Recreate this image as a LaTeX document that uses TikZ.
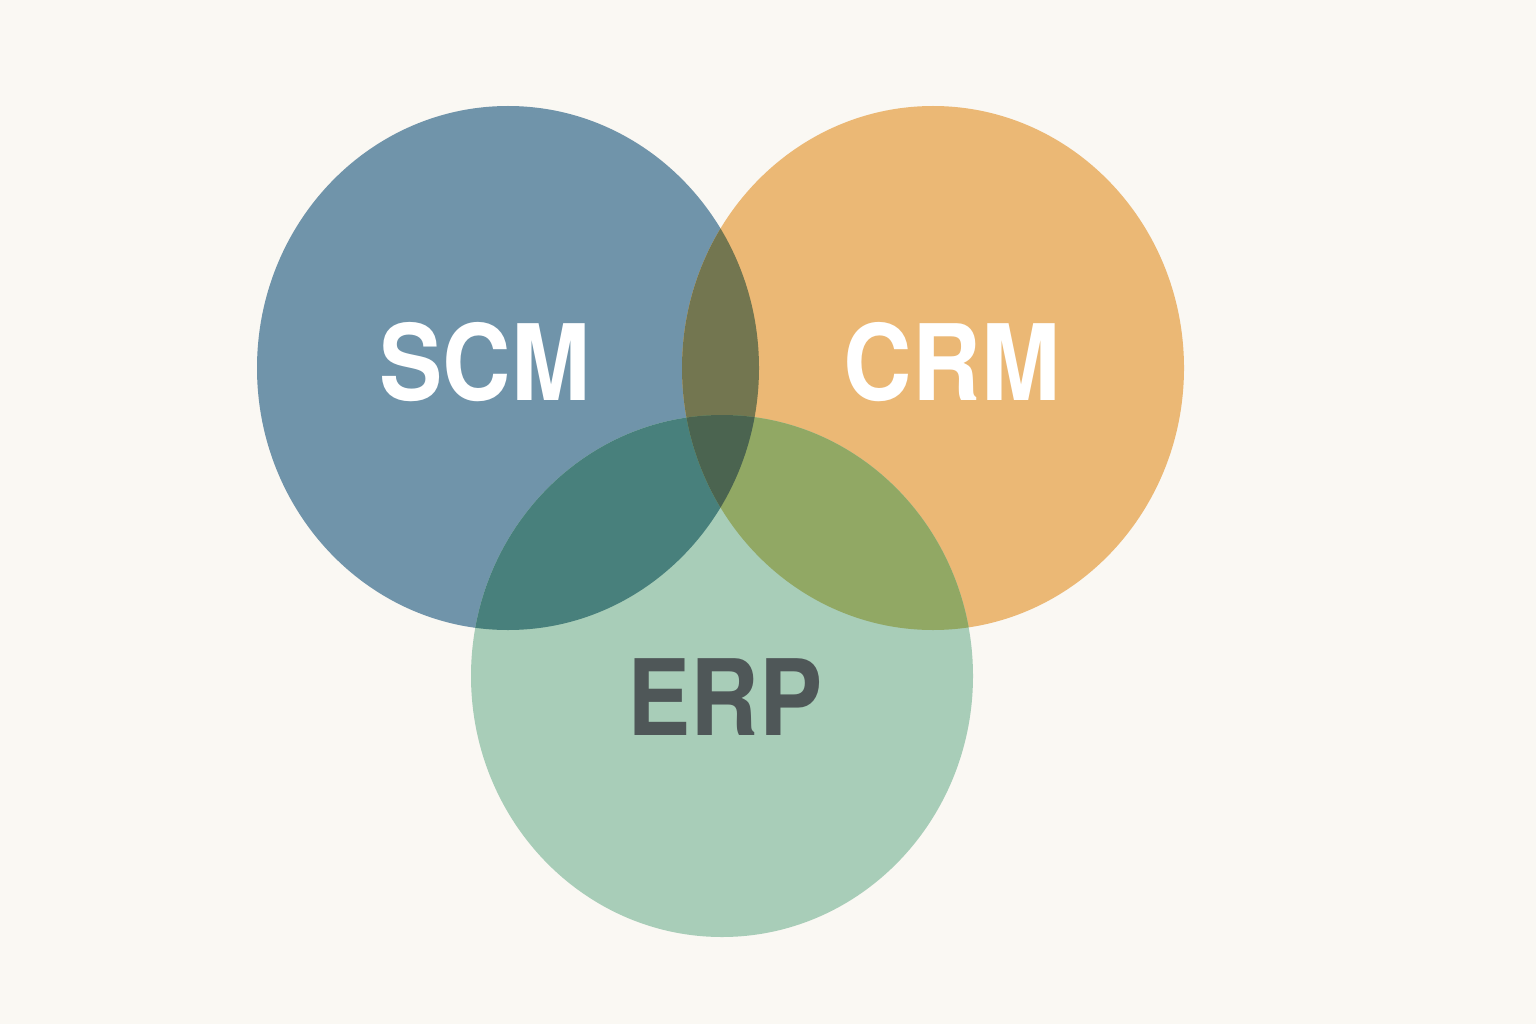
\documentclass[tikz,border=0pt]{standalone}
\usepackage{fontspec}
\setmainfont{TeX Gyre Heros}[FakeStretch=0.9]
\usepackage{xcolor}
\definecolor{paper}{HTML}{FAF8F3}
\definecolor{scmblue}{HTML}{7094AA}
\definecolor{crmorange}{HTML}{EBB875}
\definecolor{erpgreen}{HTML}{A8CDB8}
\definecolor{scmcrm}{HTML}{737650}
\definecolor{scmerp}{HTML}{48807C}
\definecolor{crmerp}{HTML}{91A864}
\definecolor{allthree}{HTML}{4B6450}
\definecolor{erptext}{HTML}{4F5758}

\begin{document}
\begin{tikzpicture}[
    label/.style={font=\fontsize{30}{36}\selectfont\bfseries, inner sep=0pt}
  ]
  % Background
  \fill[paper] (0,0) rectangle (15.36,10.24);
  \useasboundingbox (0,0) rectangle (15.36,10.24);

  \def\scmpath{(5.08,6.56) ellipse (2.51 and 2.62)}
  \def\crmpath{(9.33,6.56) ellipse (2.51 and 2.62)}
  \def\erppath{(7.22,3.48) ellipse (2.51 and 2.61)}

  % Circles
  \fill[scmblue] \scmpath;
  \fill[crmorange] \crmpath;
  \fill[erpgreen] \erppath;

  % Overlaps
  \begin{scope}
    \clip \scmpath;
    \fill[scmcrm] \crmpath;
  \end{scope}
  \begin{scope}
    \clip \scmpath;
    \fill[scmerp] \erppath;
  \end{scope}
  \begin{scope}
    \clip \crmpath;
    \fill[crmerp] \erppath;
  \end{scope}
  \begin{scope}
    \clip \scmpath;
    \clip \crmpath;
    \fill[allthree] \erppath;
  \end{scope}

  % Labels
  \node[label, white] (scm) at (4.85,6.62) {SCM};
  \node[label, white] (crm) at (9.52,6.62) {CRM};
  \node[label, erptext] (erp) at (7.25,3.27) {ERP};
\end{tikzpicture}
\end{document}
